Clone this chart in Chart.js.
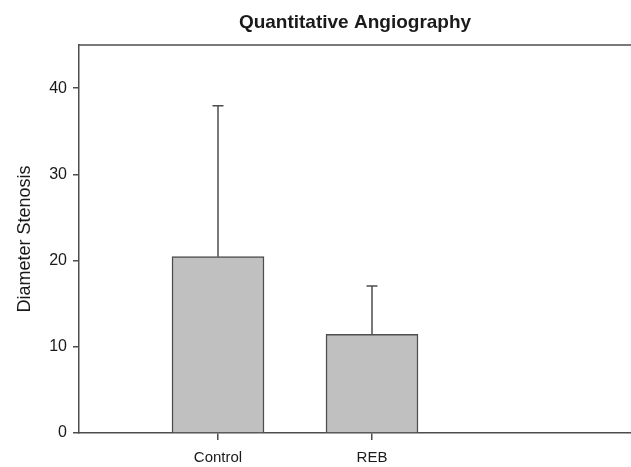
<!DOCTYPE html>
<html>
<head>
<meta charset="utf-8">
<script src="https://cdn.jsdelivr.net/npm/chart.js@4"></script>
<style>
  html, body { margin: 0; padding: 0; background: #fff; }
  #wrap { width: 631px; height: 467px; }
</style>
</head>
<body>
<div id="wrap"><canvas id="chart"></canvas></div>
<script>
// data
const categories = ['Control', 'REB'];
const meanValues = [20.45, 11.45];
const errorTops = [37.95, 17.05];   // upper end of the error bar
const yTicks = [0, 10, 20, 30, 40];

const axisColor = '#4d4d4d';
const textColor = '#1a1a1a';

// error bars, drawn up only, through the y scale
const errorBarPlugin = {
    id: 'errorBars',
    afterDatasetsDraw(chart) {
        const ctx = chart.ctx;
        const xs = chart.scales.x, ys = chart.scales.y;
        ctx.save();
        ctx.strokeStyle = axisColor;
        ctx.lineWidth = 1.5;
        categories.forEach((c, i) => {
            const x = xs.getPixelForValue(i + 1);
            const y0 = ys.getPixelForValue(meanValues[i]);
            const y1 = ys.getPixelForValue(errorTops[i]);
            ctx.beginPath();
            ctx.moveTo(x, y0);
            ctx.lineTo(x, y1);
            ctx.moveTo(x - 5.5, y1);
            ctx.lineTo(x + 5.5, y1);
            ctx.stroke();
        });
        ctx.restore();
    }
};

// top frame line
const topLinePlugin = {
    id: 'topLine',
    afterDraw(chart) {
        const { ctx, chartArea } = chart;
        ctx.save();
        ctx.strokeStyle = axisColor;
        ctx.lineWidth = 1.5;
        ctx.beginPath();
        ctx.moveTo(chartArea.left, chartArea.top);
        ctx.lineTo(chartArea.right, chartArea.top);
        ctx.stroke();
        ctx.restore();
    }
};

new Chart(document.getElementById('chart'), {
    type: 'bar',
    data: {
        datasets: [{
            data: meanValues.map((v, i) => ({ x: i + 1, y: v })),
            backgroundColor: '#c0c0c0',
            borderColor: axisColor,
            borderWidth: 1.5,
            barThickness: 92
        }]
    },
    options: {
        responsive: true,
        maintainAspectRatio: false,
        animation: false,
        layout: { padding: 0 },
        plugins: {
            legend: { display: false },
            tooltip: { enabled: false },
            title: {
                display: true,
                text: 'Quantitative Angiography',
                fullSize: false,
                color: textColor,
                font: { family: 'Liberation Sans', size: 19, weight: 'bold', lineHeight: 1.2 },
                padding: { top: 11, bottom: 11.2 }
            }
        },
        scales: {
            x: {
                type: 'linear',
                offset: false,
                min: 1 - 139 / 154,
                max: 2 + 259 / 154,
                afterBuildTicks: s => { s.ticks = categories.map((c, i) => ({ value: i + 1 })); },
                afterFit: s => { s.height = 34; },
                border: { color: axisColor, width: 1.5 },
                grid: { offset: false, drawOnChartArea: false, drawTicks: true, tickLength: 7, color: axisColor, lineWidth: 1.5 },
                ticks: {
                    padding: 9,
                    color: textColor,
                    font: { family: 'Liberation Sans', size: 15 },
                    callback: v => categories[v - 1] || ''
                }
            },
            y: {
                min: 0,
                max: 45,
                afterBuildTicks: s => { s.ticks = yTicks.map(v => ({ value: v })); },
                afterFit: s => { s.width = 79; },
                border: { color: axisColor, width: 1.5 },
                grid: { drawOnChartArea: false, drawTicks: true, tickLength: 6, color: axisColor, lineWidth: 1.5 },
                title: {
                    display: true,
                    text: 'Diameter Stenosis',
                    color: textColor,
                    font: { family: 'Liberation Sans', size: 18 },
                    padding: { top: 14, bottom: 0 }
                },
                ticks: {
                    padding: 6,
                    color: textColor,
                    font: { family: 'Liberation Sans', size: 16 }
                }
            }
        }
    },
    plugins: [errorBarPlugin, topLinePlugin]
});
</script>
</body>
</html>
